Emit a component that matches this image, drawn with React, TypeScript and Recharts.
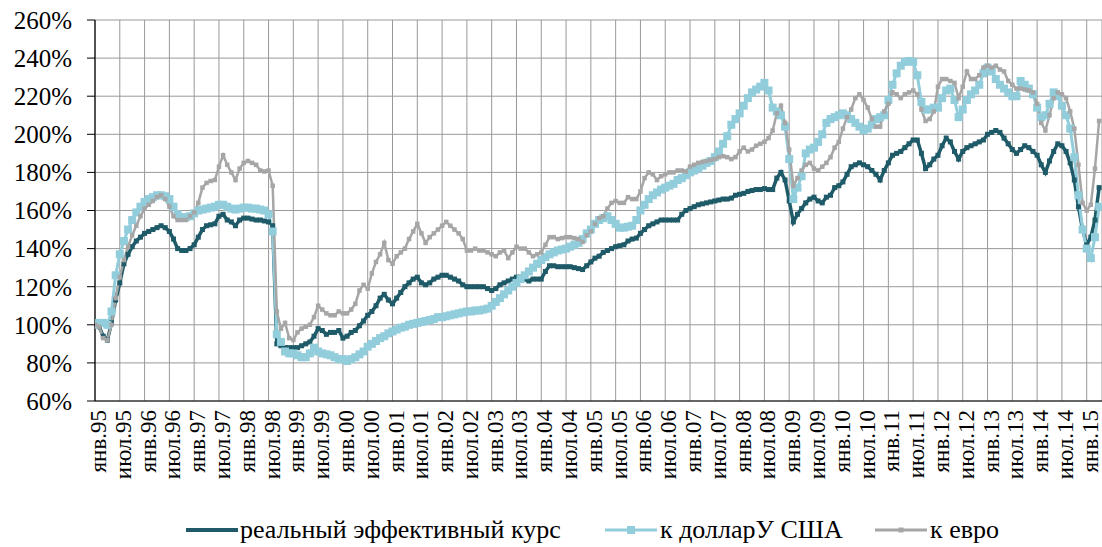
import { LineChart, Line, XAxis, YAxis, CartesianGrid } from 'recharts';

// monthly values, Jan 1995 .. Apr 2015 (Jan 1995 = 100%)
const reer = [
  100, 99, 94, 92, 101, 113, 122, 132, 137, 141, 144, 146,
  148, 149, 150, 151, 152, 151, 149, 145, 140, 139, 139, 140,
  142, 146, 150, 152, 152.5, 153, 157, 158, 155, 154, 152, 155,
  156, 156, 155.5, 155, 155, 154.5, 154, 152, 90, 89, 88, 88,
  88, 88, 89, 90, 91, 94, 98, 97, 95, 96, 96, 97,
  93, 94, 96, 97, 99.5, 102, 105, 107, 110, 114, 116, 113,
  111, 114, 117, 120, 122, 124, 125, 122, 121, 122, 124, 125,
  126, 126, 125, 124, 123, 121, 120, 120, 120, 120, 120, 119,
  118, 119, 121, 122, 123, 124, 125, 125, 124, 123, 124, 124,
  124, 128, 131, 131, 130.5, 130.5, 130.5, 130.5, 130, 129.5, 129, 131,
  133, 135, 136, 138, 139, 140, 141, 141.5, 142, 144, 145, 145.5,
  148, 150, 152, 153, 154, 155, 155, 155, 155, 155, 158, 160,
  161, 162, 163, 163.5, 164, 164.5, 165, 165.5, 166, 166, 166.5, 168,
  168.5, 169, 170, 170.5, 171, 171, 171.5, 171, 171, 177, 180, 176,
  165, 154, 158, 161, 164, 166, 167, 165, 164, 167, 168, 172,
  173, 175, 179, 183, 184, 185, 184, 183, 181, 179, 176, 181,
  185, 189, 190, 191, 193, 195, 197, 197, 190, 182, 184, 187,
  189, 194, 198, 196, 191, 187, 191, 193, 194, 195, 196, 197,
  200, 201, 202, 201, 198, 195, 192, 190, 192, 194, 193, 191,
  189, 184, 180, 186, 191, 195, 194, 191, 185, 176, 162, 150,
  142, 146, 155, 172,
];

const usd = [
  100, 101, 101, 100, 107, 126, 137, 144, 150, 155, 159, 162,
  164.5, 166, 167, 168, 168, 167.5, 166, 162, 158, 156.5, 156.5, 157,
  158.5, 160, 160.5, 161, 161.5, 162, 163, 163, 162, 161, 160.5, 161,
  161.5, 161.5, 161, 161, 160.5, 160, 158, 149, 95, 91, 86, 85,
  85, 84, 83, 83, 85, 88, 86, 85, 84.5, 84, 83, 82,
  82, 81, 82, 83, 84.5, 86, 88.5, 90, 91.5, 93, 94, 95.5,
  96.5, 97.5, 98.5, 99, 100, 100.5, 101, 101.5, 102, 102.5, 103, 104,
  104, 104.5, 105, 105.5, 106, 106.5, 107, 107, 107.5, 107.5, 108, 108.5,
  110, 112, 114, 116, 118, 120, 122, 124, 126, 128, 130, 132,
  134, 135.5, 137, 138, 139, 139.5, 140, 141, 142, 143, 145, 148,
  150, 153, 155, 156, 157, 155, 153, 151, 151, 151.5, 152, 155,
  160, 163, 166, 168, 169.5, 171, 172, 173, 174, 176, 177, 178.5,
  180, 181, 182, 183.5, 185, 186, 188, 191, 195, 199, 205, 208,
  211, 215, 219, 222, 223.5, 225, 227, 223, 214, 212, 210, 204,
  187, 166, 172, 178, 190, 192, 193, 196, 200, 206, 208, 209,
  210, 211, 210, 208, 206, 204, 202, 203, 205, 208, 209, 210,
  218, 226, 232, 236, 238, 238.5, 238, 231, 217, 213, 213, 214,
  214, 219, 223, 224, 218, 209, 213, 218, 221, 223, 226, 232,
  235, 233, 229, 226, 224, 222, 220, 220, 228, 226, 224, 221,
  214, 209, 210, 216, 222, 220, 215, 210, 203, 188, 168, 150,
  140, 135, 146, 162,
];

const eur = [
  100, 99, 93, 92, 100, 114, 125, 134, 141, 147, 152, 157,
  161, 163, 165, 167, 168, 166, 162, 157, 155, 155, 155, 157,
  159, 164, 172, 174.5, 175.5, 176, 183, 189, 184, 180, 176, 182,
  185, 186, 185, 184, 181, 180.5, 181, 173, 107, 98, 101, 93,
  92, 96, 98, 99, 100, 104, 110, 108, 106, 105, 105, 107,
  106, 106, 108, 111, 118, 121, 119, 127, 133, 137, 143, 134,
  132, 136, 138, 140, 145, 149, 153, 148, 143, 146, 148, 150,
  152, 154, 152, 150, 148, 145, 139, 139, 140, 139, 139, 138,
  137, 136, 138, 139, 135, 138, 141, 140, 140, 138, 136, 137,
  138, 142, 146, 146, 145, 145.5, 146, 146, 145.5, 145, 143.5, 147,
  149, 153, 156, 157, 161, 164, 165, 164, 164, 167, 166, 166,
  170, 177, 180, 179, 176, 178, 179, 180, 180, 181, 181, 180.5,
  183, 184, 185, 185.5, 186, 186.5, 187, 188, 188.5, 188, 187, 188,
  191, 193, 191, 192, 194, 195, 196, 198, 202, 211, 215, 206,
  192, 173, 177, 181, 184, 185, 182, 181, 183, 185, 188, 193,
  196, 203, 209, 213, 219, 221, 218, 214, 208, 204, 204, 212,
  216, 222, 221, 219, 221, 222, 223, 221, 213, 207, 208, 212,
  225, 229, 229, 228, 227, 219, 225, 233, 229, 229, 231, 235,
  236, 235, 236, 234, 233, 228, 226, 224, 224, 223.5, 223, 222,
  216, 206, 202, 210, 219, 222, 221, 219, 212, 203, 184, 164,
  160, 163, 182, 207,
];

const tickLabels = [
  'янв.95', 'июл.95', 'янв.96', 'июл.96', 'янв.97', 'июл.97', 'янв.98', 'июл.98',
  'янв.99', 'июл.99', 'янв.00', 'июл.00', 'янв.01', 'июл.01', 'янв.02', 'июл.02',
  'янв.03', 'июл.03', 'янв.04', 'июл.04', 'янв.05', 'июл.05', 'янв.06', 'июл.06',
  'янв.07', 'июл.07', 'янв.08', 'июл.08', 'янв.09', 'июл.09', 'янв.10', 'июл.10',
  'янв.11', 'июл.11', 'янв.12', 'июл.12', 'янв.13', 'июл.13', 'янв.14', 'июл.14',
  'янв.15',
];

const yTicks = [60, 80, 100, 120, 140, 160, 180, 200, 220, 240, 260];

const C_REER = '#1e5a68';
const C_USD = '#92cddc';
const C_EUR = '#a6a6a6';
const FONT = 'Liberation Serif, Tinos, Times New Roman, Times, DejaVu Serif, serif';

const data = reer.map((v, i) => ({ i, reer: v, usd: usd[i], eur: eur[i] }));
const xTicks = tickLabels.map((_, k) => k * 6);

const square = (size: number, color: string) => (props: any) => {
  const { cx, cy, index } = props;
  if (cx == null || cy == null) return <g key={`e-${index}`} />;
  return <rect key={`d-${index}`} x={cx - size / 2} y={cy - size / 2} width={size} height={size} fill={color} />;
};

const XTick = ({ x, y, payload }: any) => {
  const label = tickLabels[Math.round(payload.value / 6)];
  const bx = x + 11;
  const by = y + 7;
  return (
    <text x={bx} y={by} transform={`rotate(-90, ${bx}, ${by})`} textAnchor="end" fontSize={23} style={{ fontFamily: FONT }} fill="#000">
      {label}
    </text>
  );
};

const legendText = { fontFamily: FONT, fontSize: 26, color: '#000', lineHeight: '30px' };

function LegendRow() {
  return (
    <div style={{ position: 'absolute', left: 0, top: 514, width: 1102, height: 33 }}>
      <svg width={1102} height={33} style={{ position: 'absolute', left: 0, top: 0 }}>
        <line x1={186} x2={238} y1={16} y2={16} stroke={C_REER} strokeWidth={4} />
        <line x1={605} x2={657} y1={16} y2={16} stroke={C_USD} strokeWidth={3} />
        <rect x={627} y={12} width={8} height={8} fill={C_USD} />
        <line x1={875} x2={927} y1={16} y2={16} stroke={C_EUR} strokeWidth={3} />
        <rect x={898.5} y={13.5} width={5} height={5} fill={C_EUR} />
      </svg>
      <span style={{ ...legendText, position: 'absolute', left: 240, top: 1, whiteSpace: 'nowrap' }}>реальный эффективный курс</span>
      <span style={{ ...legendText, position: 'absolute', left: 660, top: 1, whiteSpace: 'nowrap' }}>к долларУ США</span>
      <span style={{ ...legendText, position: 'absolute', left: 930, top: 1, whiteSpace: 'nowrap' }}>к евро</span>
    </div>
  );
}

export default function App() {
  return (
    <div style={{ position: 'absolute', left: 0, top: 0, width: 1102, height: 547, background: '#fff', overflow: 'hidden', fontFamily: FONT }}>
      <LineChart width={1102} height={547} data={data} margin={{ top: 20, right: 0, bottom: 0, left: 0 }} style={{ fontFamily: FONT }}>
        <CartesianGrid stroke="#999" strokeWidth={1} />
        <XAxis
          dataKey="i"
          type="number"
          domain={[0, 243.7]}
          ticks={xTicks}
          interval={0}
          allowDataOverflow
          height={146}
          tick={<XTick />}
          tickLine={false}
          tickSize={0}
          axisLine={{ stroke: '#000', strokeWidth: 1.2 }}
        />
        <YAxis
          type="number"
          domain={[60, 260]}
          ticks={yTicks}
          interval={0}
          width={95}
          tickFormatter={(v) => `${v}%`}
          tick={{ fill: '#000', fontSize: 25, style: { fontFamily: FONT } }}
          tickSize={8}
          tickMargin={15}
          tickLine={{ stroke: '#000' }}
          axisLine={{ stroke: '#000', strokeWidth: 1.2 }}
        />
        <Line dataKey="reer" stroke={C_REER} strokeWidth={3.5} dot={square(5, C_REER)} isAnimationActive={false} />
        <Line dataKey="usd" stroke={C_USD} strokeWidth={3} dot={square(8, C_USD)} isAnimationActive={false} />
        <Line dataKey="eur" stroke={C_EUR} strokeWidth={2.5} dot={square(4.5, C_EUR)} isAnimationActive={false} />
      </LineChart>
      <LegendRow />
    </div>
  );
}
